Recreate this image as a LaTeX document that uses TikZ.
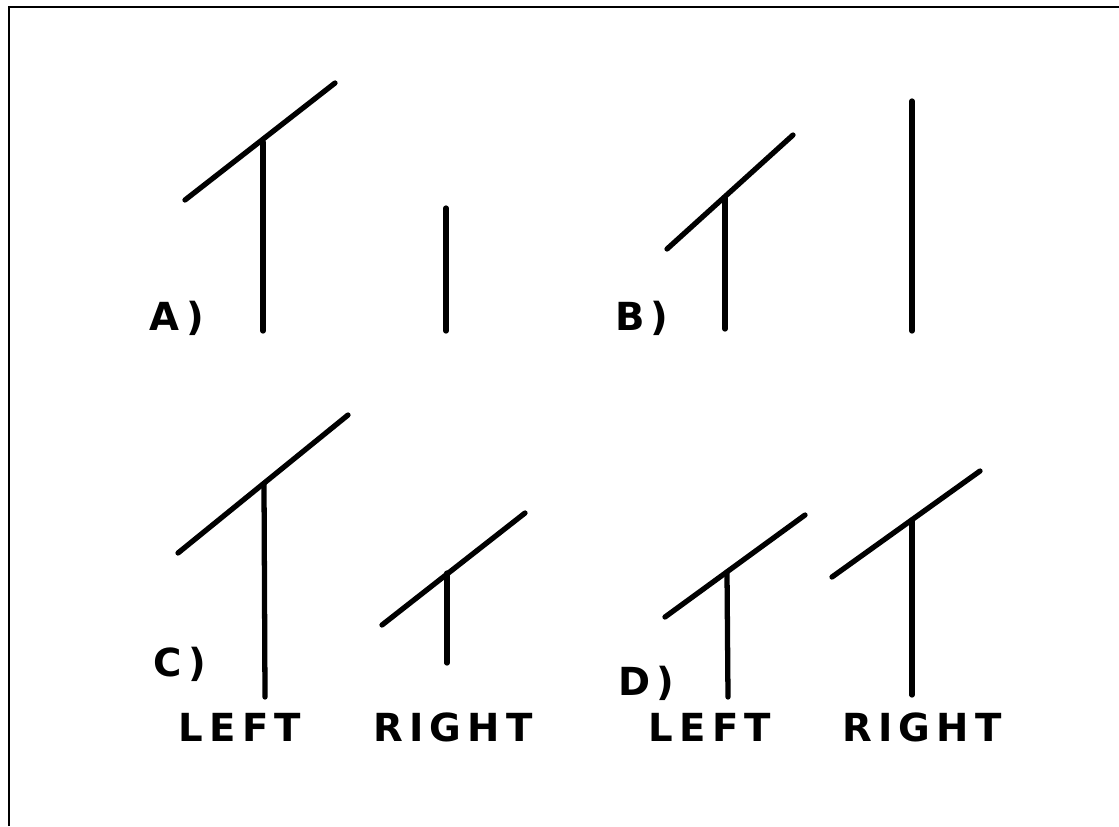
\documentclass[tikz,border=0pt]{standalone}
\usepackage{fontspec}
\newfontfamily\plotfont[LetterSpace=16]{DejaVu Sans Bold}
\usepackage{tikz}

\begin{document}
\begin{tikzpicture}[x=0.02cm, y=-0.02cm,
    bar/.style={line width=3pt, line cap=round},
    frame/.style={line width=1.6pt},
    lbl/.style={inner sep=0pt, font=\plotfont\fontsize{22}{22}\selectfont}]
\useasboundingbox (0,0) rectangle (1119,826);
% frame, open on the right and at the bottom
\coordinate (fb) at (9,826);
\coordinate (fc) at (9,7);
\coordinate (fr) at (1119,7);
\draw[frame] (fb) -- (fc) -- (fr);

% A)
\coordinate (al) at (185,200); \coordinate (ar) at (335,83);
\coordinate (aj) at (263,142); \coordinate (ab) at (263,331);
\draw[bar] (al) -- (ar); \draw[bar] (aj) -- (ab);
\coordinate (at) at (446,208); \coordinate (an) at (446,331);
\draw[bar] (at) -- (an);
\node[lbl] (la) at (177,318) {A\,)};

% B)
\coordinate (bl) at (667,249); \coordinate (br) at (793,135);
\coordinate (bj) at (725,198); \coordinate (bb) at (725,329);
\draw[bar] (bl) -- (br); \draw[bar] (bj) -- (bb);
\coordinate (bt) at (912,101); \coordinate (bn) at (912,331);
\draw[bar] (bt) -- (bn);
\node[lbl] (lb) at (642,318) {B)};

% C)
\coordinate (cl) at (178,553); \coordinate (cr) at (348,415);
\coordinate (cj) at (264,484); \coordinate (cb) at (265,697);
\draw[bar] (cl) -- (cr); \draw[bar] (cj) -- (cb);
\coordinate (cl2) at (382,625); \coordinate (cr2) at (525,513);
\coordinate (cj2) at (447,573); \coordinate (cb2) at (447,663);
\draw[bar] (cl2) -- (cr2); \draw[bar] (cj2) -- (cb2);
\node[lbl] (lc) at (180,664) {C)};
\node[lbl] (cleft) at (240,727) {LEFT};
\node[lbl] (cright) at (453,727) {RIGHT};

% D)
\coordinate (dl) at (665,617); \coordinate (dr) at (805,515);
\coordinate (dj) at (727,572); \coordinate (db) at (728,697);
\draw[bar] (dl) -- (dr); \draw[bar] (dj) -- (db);
\coordinate (dl2) at (832,577); \coordinate (dr2) at (980,471);
\coordinate (dj2) at (912,520); \coordinate (db2) at (912,695);
\draw[bar] (dl2) -- (dr2); \draw[bar] (dj2) -- (db2);
\node[lbl] (ld) at (646,683) {D)};
\node[lbl] (dleft) at (710,727) {LEFT};
\node[lbl] (dright) at (922,727) {RIGHT};
\end{tikzpicture}
\end{document}
